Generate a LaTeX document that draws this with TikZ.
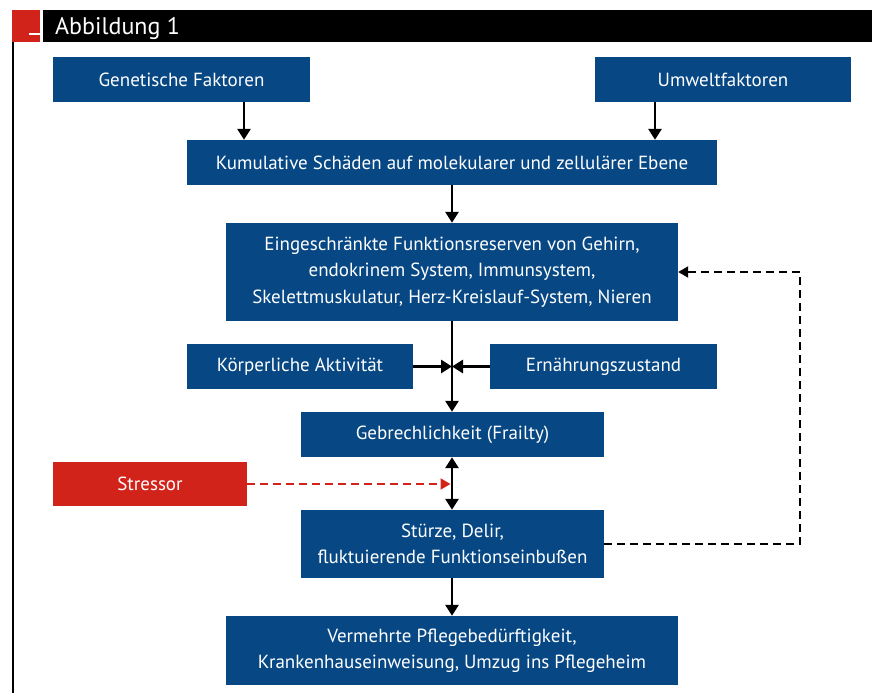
\documentclass[tikz,border=0pt]{standalone}
\usepackage{fontspec}
\setmainfont{PT Sans}
\usetikzlibrary{arrows.meta}
\definecolor{boxblue}{RGB}{6,71,132}
\definecolor{boxred}{RGB}{210,35,26}
\begin{document}
\begin{tikzpicture}[x=1pt,y=-1pt,
  box/.style={fill=boxblue, text=white, align=center, inner sep=0pt,
    font=\fontsize{19}{26.5}\selectfont},
  redbox/.style={box, fill=boxred},
  arr/.style={line width=2.8pt, -{Triangle[length=11pt,width=13pt]}},
  darr/.style={line width=2.8pt, {Triangle[length=11pt,width=13pt]}-{Triangle[length=11pt,width=13pt]}},
  fb/.style={line width=2pt, dash pattern=on 8pt off 5pt, -{Triangle[length=10pt,width=11pt]}},
  sarr/.style={fb, draw=boxred}
]
\useasboundingbox (0,0) rectangle (872,693);
% header
\fill[boxred] (12,10) rectangle (40,42);
\fill[white] (29,33) rectangle (40,35);
\fill[black] (43,10) rectangle (872,42);
\fill[black] (12,42) rectangle (14,693);
\node[anchor=base west, text=white, inner sep=0pt, font=\fontsize{24}{28}\selectfont] (title) at (55,35) {Abbildung 1};

\node[box, minimum width=257pt, minimum height=45pt] (gen) at (181.5,79.5) {Genetische Faktoren};
\node[box, minimum width=256pt, minimum height=45pt] (umw) at (723,79.5) {Umweltfaktoren};
\node[box, minimum width=530pt, minimum height=45pt] (kum) at (452,162.5) {Kumulative Schäden auf molekularer und zellulärer Ebene};
\node[box, minimum width=452pt, minimum height=98pt] (ein) at (452,272) {Eingeschränkte Funktionsreserven von Gehirn,\\endokrinem System, Immunsystem,\\Skelettmuskulatur, Herz-Kreislauf-System, Nieren};
\node[box, minimum width=226pt, minimum height=45pt] (koe) at (300,366.5) {Körperliche Aktivität};
\node[box, minimum width=227pt, minimum height=45pt] (ern) at (603.5,366.5) {Ernährungszustand};
\node[box, minimum width=303pt, minimum height=45pt] (geb) at (452.5,434.5) {Gebrechlichkeit (Frailty)};
\node[redbox, minimum width=194pt, minimum height=44pt] (str) at (150,484) {Stressor};
\node[box, minimum width=303pt, minimum height=68pt] (stu) at (452.5,544) {Stürze, Delir,\\fluktuierende Funktionseinbußen};
\node[box, minimum width=452pt, minimum height=69pt] (ver) at (452,650.5) {Vermehrte Pflegebedürftigkeit,\\Krankenhauseinweisung, Umzug ins Pflegeheim};

\coordinate (m) at (452,366.5);
\coordinate (sm) at (450.5,484);
\coordinate (fbc) at (800,272);

\draw[arr] (gen.south -| 244,0) -- (kum.north -| 244,0);
\draw[arr] (umw.south -| 655,0) -- (kum.north -| 655,0);
\draw[arr] (kum.south -| m) -- (ein.north -| m);
\draw[arr] (ein.south -| m) -- (geb.north -| m);
\draw[arr] (koe.east) -- (m);
\draw[arr] (ern.west) -- (m);
\draw[darr] (geb.south -| m) -- (stu.north -| m);
\draw[arr] (stu.south -| m) -- (ver.north -| m);
\draw[sarr] (str.east) -- (sm);
\draw[fb] (stu.east) -| (fbc) -- (ein.east);
\end{tikzpicture}
\end{document}
